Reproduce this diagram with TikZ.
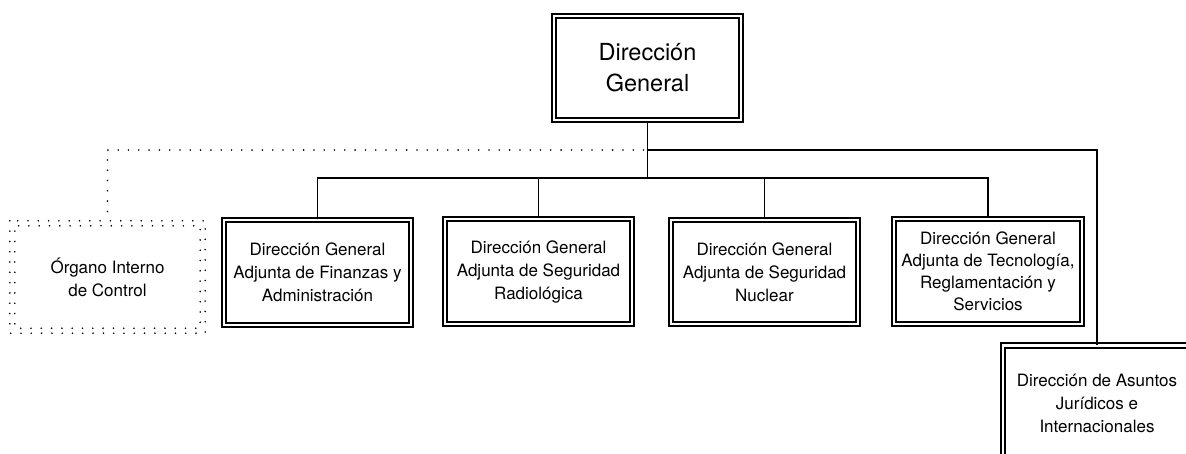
\documentclass[tikz,border=0pt]{standalone}
\usepackage{fontspec}
\setmainfont{TeX Gyre Heros}
\tikzset{
  dbox/.style={draw, double, line width=1.9pt, double distance=2.4pt, inner sep=0pt,
    minimum width=187.5pt, minimum height=104.5pt, align=center,
    font=\fontsize{17}{23}\selectfont},
  conn/.style={line width=1.5pt},
  dotline/.style={line width=1.8pt, line cap=round, dash pattern=on 0pt off 10.3pt},
}
\begin{document}
\begin{tikzpicture}[x=1pt,y=-1pt]
\useasboundingbox (0,0) rectangle (1186,453);
\node[dbox, minimum width=186.5pt, minimum height=103.5pt, font=\fontsize{23.5}{31}\selectfont] (dg) at (647.5,68) {Dirección\\General};
\node[dbox] (b1) at (317.5,272.5) {Dirección General\\Adjunta de Finanzas y\\Administración};
\node[dbox] (b2) at (538.5,271.5) {Dirección General\\Adjunta de Seguridad\\Radiológica};
\node[dbox] (b3) at (764.5,272) {Dirección General\\Adjunta de Seguridad\\Nuclear};
\node[dbox, font=\fontsize{17}{22}\selectfont] (b4) at (988,271.5) {Dirección General\\Adjunta de Tecnología,\\Reglamentación y\\Servicios};
\node[dbox, minimum height=115pt] (dj) at (1097,403) {Dirección de Asuntos\\Jurídicos e\\Internacionales};
\node[inner sep=0pt, minimum width=195pt, minimum height=112pt, align=center,
  font=\fontsize{17}{23}\selectfont] (oic) at (107.5,277) {Órgano Interno\\de Control};
\draw[dotline] (oic.north west) rectangle (oic.south east);
\draw[dotline, dash phase=5pt] ([shift={(5pt,-5pt)}]oic.north west) rectangle ([shift={(-5pt,5pt)}]oic.south east);
\coordinate (j1) at (647.5,150);
\coordinate (j2) at (647.5,178);
\draw[conn] (dg.south) -- (j2);
\draw[conn] (j1) -| (dj.north);
\draw[conn] (b1.north) -- (b1.north |- j2) -- (b4.north |- j2) -- (b4.north);
\draw[conn] (b2.north) -- (b2.north |- j2);
\draw[conn] (b3.north) -- (b3.north |- j2);
\draw[dotline] ([xshift=-4pt]j1) -| (oic.north);
\end{tikzpicture}
\end{document}
